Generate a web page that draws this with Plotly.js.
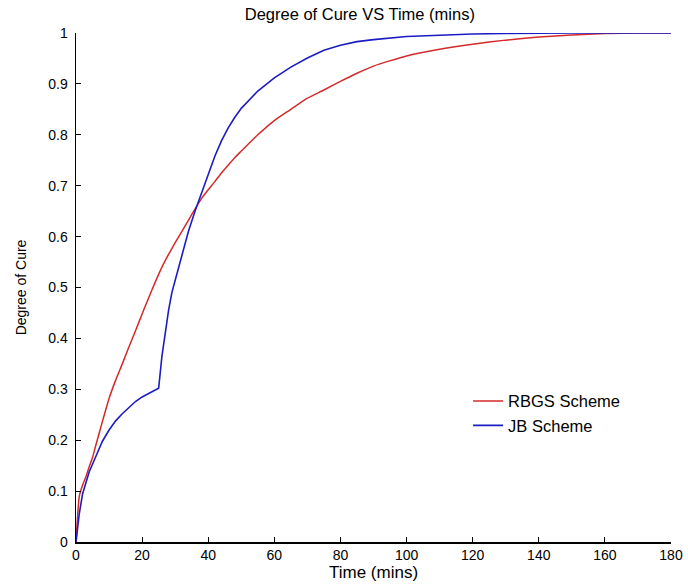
<!DOCTYPE html>
<html>
<head>
<meta charset="utf-8">
<script src="https://cdn.plot.ly/plotly-3.0.1.min.js"></script>
<style>html,body{margin:0;padding:0;background:#fff;}#chart{width:688px;height:586px;}</style>
</head>
<body>
<div id="chart"></div>
<script>
var jbTime = [0,1,2,4,6,8,10,12,14,16,18,20,22,24,25,26,27,28,29,30,32,34,36,38,40,42,44,46,48,50,55,60,65,70,75,80,85,90,100,110,120,130,140,150,160,170,180];
var jbCure = [0,0.056,0.095,0.138,0.168,0.198,0.22,0.238,0.252,0.264,0.276,0.285,0.292,0.298,0.302,0.365,0.415,0.455,0.49,0.515,0.565,0.61,0.65,0.685,0.722,0.758,0.788,0.813,0.834,0.852,0.886,0.912,0.933,0.951,0.966,0.976,0.983,0.987,0.993,0.996,0.998,0.999,1,1,1,1,1];

var rbgsTime = [0,1,2,3,4,5,6,8,10,12,14,16,18,20,22,24,26,28,30,32,34,36,38,40,42,44,46,48,50,55,60,65,70,75,80,85,90,100,110,120,130,140,150,160,170,180];
var rbgsCure = [0,0.09,0.112,0.128,0.148,0.166,0.19,0.237,0.282,0.318,0.35,0.383,0.415,0.448,0.48,0.511,0.54,0.565,0.588,0.61,0.632,0.654,0.675,0.692,0.708,0.725,0.74,0.755,0.768,0.8,0.828,0.85,0.872,0.888,0.905,0.921,0.935,0.955,0.968,0.978,0.986,0.992,0.996,0.999,1,1];

var xTicks = [0,20,40,60,80,100,120,140,160,180];
var yTicks = [0,0.1,0.2,0.3,0.4,0.5,0.6,0.7,0.8,0.9,1];
var yTickText = ['0','0.1','0.2','0.3','0.4','0.5','0.6','0.7','0.8','0.9','1'];

var traces = [
  {x: rbgsTime, y: rbgsCure, name: 'RBGS Scheme', mode: 'lines', line: {color: '#d42a2a', width: 1.5, shape: 'spline', smoothing: 0.5}},
  {x: jbTime, y: jbCure, name: 'JB Scheme', mode: 'lines', line: {color: '#1c1cc4', width: 1.6}}
];

var font = 'Liberation Sans, Arial, Helvetica, sans-serif';
var layout = {
  width: 688, height: 586,
  margin: {l: 76, r: 17, t: 33, b: 44, pad: 0},
  paper_bgcolor: '#fff', plot_bgcolor: '#fff',
  font: {family: font, size: 13, color: '#000'},
  title: {text: 'Degree of Cure VS Time (mins)', font: {family: font, size: 16.5, color: '#000'}, x: 0.523, xanchor: 'center', y: 0.975, yanchor: 'middle'},
  xaxis: {
    range: [0, 180], tickvals: xTicks, ticktext: xTicks.map(String),
    showgrid: false, zeroline: false, showline: true, linecolor: '#000', linewidth: 1.5,
    ticks: 'inside', ticklen: 5, tickwidth: 1, tickcolor: '#000',
    tickfont: {family: font, size: 14, color: '#000'},
    title: {text: 'Time (mins)', font: {family: font, size: 17, color: '#000'}, standoff: 1}
  },
  yaxis: {
    range: [0, 1], tickvals: yTicks, ticktext: yTickText,
    showgrid: false, zeroline: false, showline: true, linecolor: '#000', linewidth: 1.5,
    ticks: 'inside', ticklen: 5, tickwidth: 1, tickcolor: '#000',
    ticklabelstandoff: 4,
    tickfont: {family: font, size: 14, color: '#000'},
    title: {text: 'Degree of Cure', font: {family: font, size: 14, color: '#000'}, standoff: 18}
  },
  showlegend: true,
  legend: {x: 0.659, y: 0.311, xanchor: 'left', yanchor: 'top', bgcolor: 'rgba(0,0,0,0)', borderwidth: 0,
    font: {family: font, size: 16.5, color: '#000'}, itemwidth: 30, tracegroupgap: 0}
};

Plotly.newPlot('chart', traces, layout, {displayModeBar: false, staticPlot: true});
</script>
</body>
</html>
